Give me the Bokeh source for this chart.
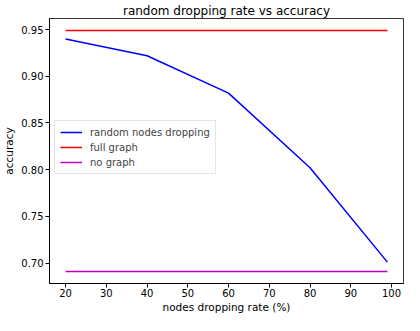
from bokeh.plotting import figure
from bokeh.embed import file_html
from bokeh.resources import INLINE
from bokeh.models import FixedTicker, PrintfTickFormatter, Range1d, Legend, LegendItem

rates = [20, 40, 60, 80, 99]
random_acc = [0.940, 0.922, 0.882, 0.802, 0.701]
full_x = [20, 99]
full_acc = [0.949, 0.949]
none_x = [20, 99]
none_acc = [0.691, 0.691]
x_ticks = [20, 30, 40, 50, 60, 70, 80, 90, 100]
y_ticks = [0.70, 0.75, 0.80, 0.85, 0.90, 0.95]

FONT = "DejaVu Sans"

p = figure(width=404, height=315, output_backend="svg", toolbar_location=None,
           x_range=Range1d(16.05, 102.95), y_range=Range1d(0.6781, 0.9619),
           min_border_left=44, min_border_right=1, min_border_top=16, min_border_bottom=30,
           title="random dropping rate vs accuracy")

p.title.align = "center"
p.title.text_font = FONT
p.title.text_font_size = "12px"
p.title.text_font_style = "normal"
p.title.text_color = "#000000"
p.title.standoff = 2
p.title.offset = 0

r1 = p.line(rates, random_acc, line_color="#0000ff", line_width=1.5)
r2 = p.line(full_x, full_acc, line_color="#ff0000", line_width=1.5)
r3 = p.line(none_x, none_acc, line_color="#bf00bf", line_width=1.5)

legend = Legend(items=[LegendItem(label="random nodes dropping", renderers=[r1]),
                       LegendItem(label="full graph", renderers=[r2]),
                       LegendItem(label="no graph", renderers=[r3])],
                location=(5, 109))
legend.label_text_font = FONT
legend.label_text_font_size = "10px"
legend.label_height = 12
legend.glyph_height = 12
legend.glyph_width = 22
legend.spacing = 3
legend.padding = 5
legend.margin = 0
legend.label_standoff = 8
legend.border_line_color = "#cccccc"
legend.border_line_width = 1
legend.background_fill_alpha = 0.8
p.add_layout(legend, "center")

p.xgrid.visible = False
p.ygrid.visible = False
p.outline_line_color = "#000000"
p.outline_line_width = 1
p.outline_line_alpha = 0.8

p.xaxis.ticker = FixedTicker(ticks=x_ticks)
p.yaxis.ticker = FixedTicker(ticks=y_ticks)
p.yaxis.formatter = PrintfTickFormatter(format="%.2f")
p.xaxis.axis_label = "nodes dropping rate (%)"
p.yaxis.axis_label = "accuracy"
for ax in (p.xaxis, p.yaxis):
    ax.major_label_text_font = FONT
    ax.major_label_text_font_size = "10px"
    ax.major_label_text_color = "#000000"
    ax.axis_label_text_font = FONT
    ax.axis_label_text_font_size = "10.5px"
    ax.axis_label_text_font_style = "normal"
    ax.axis_label_text_color = "#000000"
    ax.minor_tick_line_color = None
    ax.major_tick_out = 4
    ax.major_tick_in = 0
    ax.major_tick_line_color = "#000000"
    ax.axis_line_color = "#000000"
p.xaxis.major_label_standoff = 1
p.xaxis.axis_label_standoff = 1
p.yaxis.major_label_standoff = 2
p.yaxis.axis_label_standoff = 3

open("out.html", "w").write(file_html(p, INLINE))
